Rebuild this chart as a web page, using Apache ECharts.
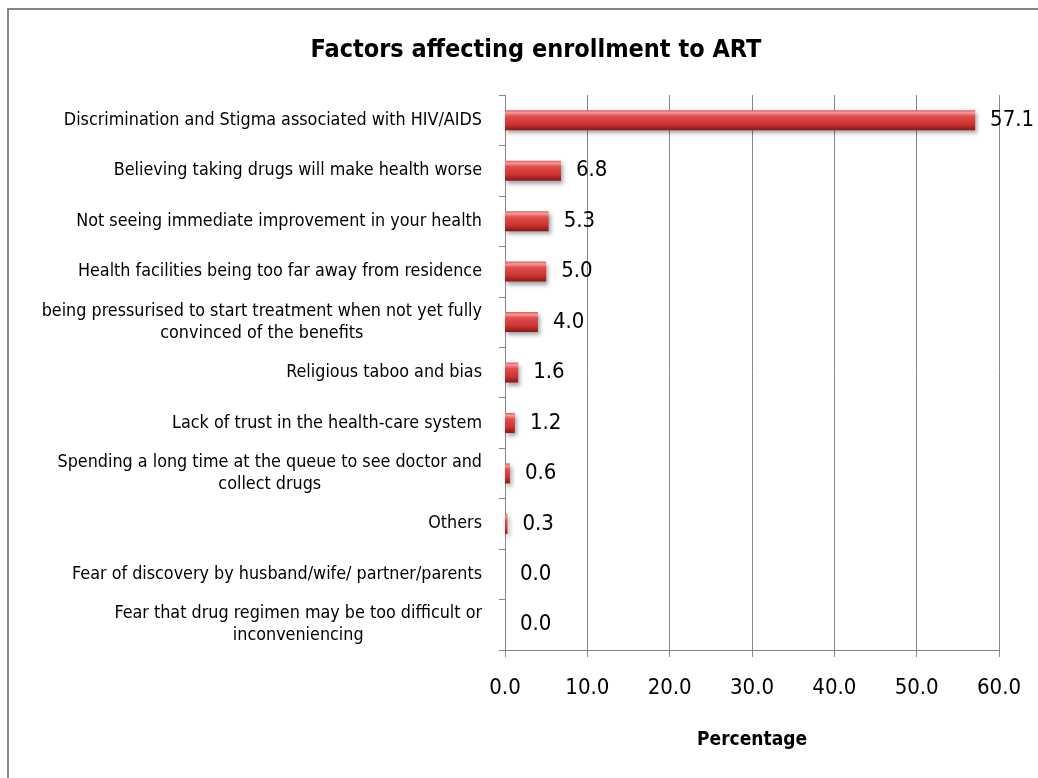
<!DOCTYPE html>
<html>
<head>
<meta charset="utf-8">
<script src="https://cdn.jsdelivr.net/npm/echarts@6/dist/echarts.min.js"></script>
<style>
  html, body { margin: 0; padding: 0; background: #ffffff; }
  #chart { width: 1038px; height: 778px; }
</style>
</head>
<body>
<div id="chart"></div>
<script>
// Reasons reported, listed top to bottom
const categories = [
  'Discrimination and Stigma associated with HIV/AIDS',
  'Believing taking drugs will make health worse',
  'Not seeing immediate improvement in your health',
  'Health facilities being too far away from residence',
  'being pressurised to start treatment when not yet fully\nconvinced of the benefits',
  'Religious taboo and bias',
  'Lack of trust in the health-care system',
  'Spending a long time at the queue to see doctor and\ncollect drugs',
  'Others',
  'Fear of discovery by husband/wife/ partner/parents',
  'Fear that drug regimen may be too difficult or\ninconveniencing'
];

// Share of respondents (%)
const percentages = [57.1, 6.8, 5.3, 5.0, 4.0, 1.6, 1.2, 0.6, 0.3, 0.0, 0.0];

// Percentage axis ticks: 0.0 .. 60.0 every 10
const axisMin = 0;
const axisMax = 60;
const axisStep = 10;

const titleText = 'Factors affecting enrollment to ART';
const axisTitle = 'Percentage';

const labelFont = "'DejaVu Sans Condensed', 'DejaVu Sans', sans-serif";
const numberFont = "'DejaVu Sans Condensed', 'DejaVu Sans', sans-serif";
const lineGray = '#868686';

const chart = echarts.init(document.getElementById('chart'), null, { renderer: 'canvas' });

// Bevelled red bar face: light rim on top, darker toward the bottom edge
const barFill = new echarts.graphic.LinearGradient(0, 0, 0, 1, [
  { offset: 0.0, color: '#e05a5a' },
  { offset: 0.12, color: '#f49a9a' },
  { offset: 0.3, color: '#e44c4c' },
  { offset: 0.7, color: '#cc3333' },
  { offset: 1.0, color: '#841818' }
]);

chart.setOption({
  backgroundColor: '#ffffff',
  animation: false,
  title: {
    text: titleText,
    left: 531,
    top: 33,
    textAlign: 'center',
    textStyle: {
      fontFamily: labelFont,
      fontWeight: 'bold',
      fontSize: 25,
      color: '#000000'
    }
  },
  graphic: [{
    type: 'rect',
    shape: { x: 8, y: 9, width: 1100, height: 900 },
    style: { fill: 'none', stroke: lineGray, lineWidth: 2 },
    silent: true,
    z: 0
  }],
  grid: {
    left: 505,
    right: 39,
    top: 95,
    bottom: 128,
    containLabel: false
  },
  xAxis: {
    type: 'value',
    min: axisMin,
    max: axisMax,
    interval: axisStep,
    name: axisTitle,
    nameLocation: 'middle',
    nameGap: 81,
    nameTextStyle: {
      fontFamily: labelFont,
      fontWeight: 'bold',
      fontSize: 19,
      color: '#000000'
    },
    axisLine: { show: true, lineStyle: { color: lineGray, width: 1 } },
    axisTick: { show: true, length: 7, lineStyle: { color: lineGray } },
    splitLine: { show: true, lineStyle: { color: lineGray, width: 1 } },
    axisLabel: {
      margin: 27,
      fontFamily: numberFont,
      fontSize: 22,
      color: '#000000',
      formatter: v => v.toFixed(1)
    }
  },
  yAxis: {
    type: 'category',
    data: categories,
    inverse: true,
    axisLine: { show: true, lineStyle: { color: lineGray, width: 1 } },
    axisTick: { show: true, length: 6, inside: false, lineStyle: { color: lineGray } },
    splitLine: { show: false },
    axisLabel: {
      margin: 23,
      color: '#000000',
      fontFamily: labelFont,
      fontSize: 17.8,
      lineHeight: 22,
      formatter: v => v.split('\n').map(s => '{c|' + s + '}').join('\n'),
      rich: {
        c: {
          align: 'center',
          fontFamily: labelFont,
          fontSize: 17.8,
          lineHeight: 22,
          color: '#000000'
        }
      }
    }
  },
  series: [{
    type: 'bar',
    data: percentages,
    barWidth: 20,
    itemStyle: {
      color: barFill,
      shadowColor: 'rgba(0,0,0,0.35)',
      shadowBlur: 4,
      shadowOffsetX: 2,
      shadowOffsetY: 3
    },
    label: {
      show: true,
      position: 'right',
      distance: 15,
      fontFamily: numberFont,
      fontSize: 22,
      color: '#000000',
      formatter: p => p.value.toFixed(1)
    }
  }]
});
</script>
</body>
</html>
